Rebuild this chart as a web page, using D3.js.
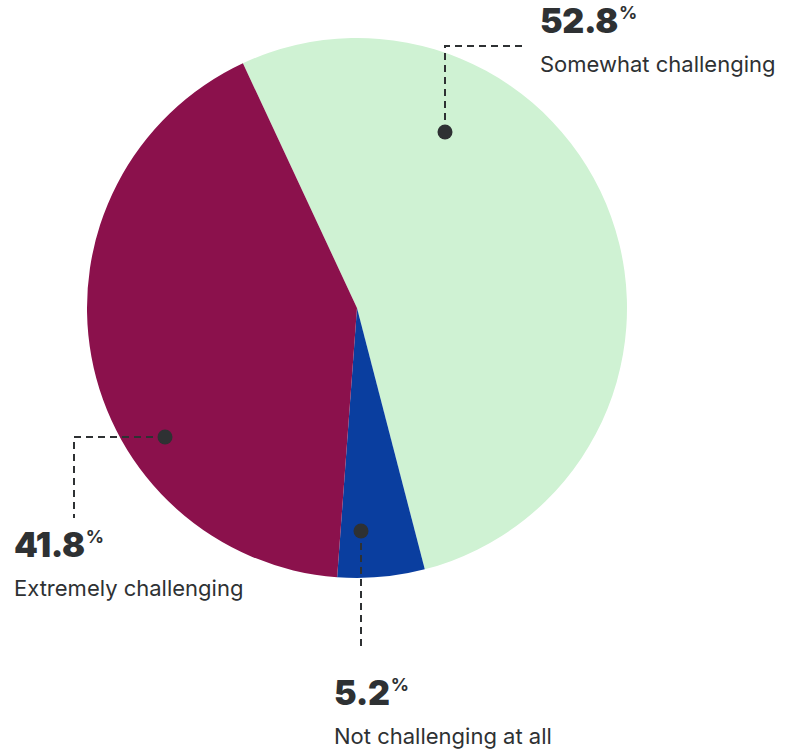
<!DOCTYPE html>
<html><head><meta charset="utf-8">
<script src="https://cdn.jsdelivr.net/npm/d3@7"></script>
<style>body{margin:0;background:#fff}svg{display:block}</style>
</head><body>
<script>
const categories = ["Somewhat challenging", "Not challenging at all", "Extremely challenging"];
const values = [52.8, 5.2, 41.8];
const valueLabels = ["52.8", "5.2", "41.8"];
const colors = ["#cff2d3", "#0a3e9f", "#8b114c"];

const W = 794, H = 751, cx = 357, cy = 308, R = 270;
const svg = d3.select("body").append("svg").attr("width", W).attr("height", H);
const g = svg.append("g").attr("transform", `translate(${cx},${cy})`);

const pie = d3.pie().sort(null).value(d => d).startAngle(-25 * Math.PI / 180).endAngle(335 * Math.PI / 180);
const arcs = pie(values);
const arc = d3.arc().innerRadius(0).outerRadius(R);
g.selectAll("path").data(arcs).enter().append("path")
  .attr("d", arc).attr("fill", (d, i) => colors[i]);

const ann = [
  {dot: [445, 132], path: [[445, 132], [445, 46], [522, 46]], label: [540, 33]},
  {dot: [361, 531], path: [[361, 531], [361, 650]], label: [334, 705]},
  {dot: [165, 437], path: [[165, 437], [74, 437], [74, 518]], label: [14, 557]}
];
const ink = "#2e3133";
const line = d3.line();
ann.forEach((a, i) => {
  svg.append("path").attr("d", line(a.path)).attr("fill", "none")
    .attr("stroke", ink).attr("stroke-width", 2).attr("stroke-dasharray", "7,5");
  svg.append("circle").attr("cx", a.dot[0]).attr("cy", a.dot[1]).attr("r", 7.5).attr("fill", ink);
  const t = svg.append("text").attr("x", a.label[0]).attr("y", a.label[1])
    .attr("font-family", "Inter, sans-serif").attr("fill", ink);
  t.append("tspan").attr("font-size", 34).attr("font-weight", 900).attr("letter-spacing", -0.3).text(valueLabels[i]);
  t.append("tspan").attr("font-size", 18).attr("font-weight", 700).attr("dx", 1).attr("dy", -14).text("%");
  svg.append("text").attr("x", a.label[0]).attr("y", a.label[1] + 39)
    .attr("font-family", "Inter, sans-serif").attr("font-size", 22).attr("fill", ink)
    .text(categories[i]);
});
</script>
</body></html>
